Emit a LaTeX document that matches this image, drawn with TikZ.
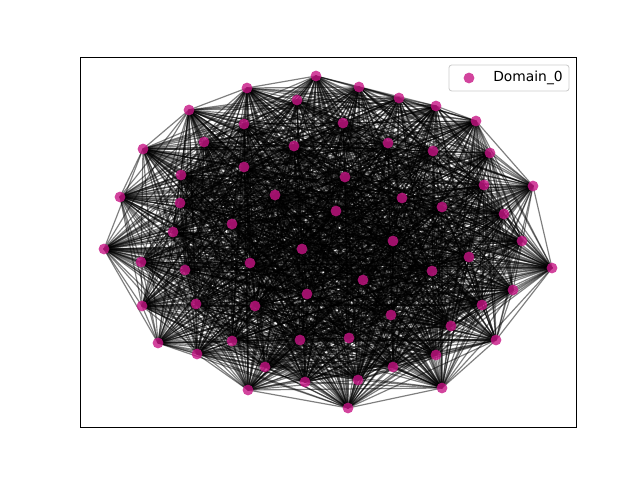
\documentclass[tikz,border=0pt]{standalone}
\usepackage{fontspec}
\setmainfont{DejaVu Sans}
\usetikzlibrary{backgrounds}
\definecolor{domaincol}{RGB}{199,21,133}
\tikzset{
  vertex/.style={circle, fill=domaincol, fill opacity=0.8, inner sep=0pt, minimum size=7.8pt},
  edgeline/.style={black, opacity=0.5, line width=0.85pt},
}
\begin{document}
\begin{tikzpicture}[x=0.01in, y=-0.01in]
		\useasboundingbox (0,0) rectangle (640,480);
		\draw[line width=0.6pt] (80,57.6) rectangle (576,427.2);
		
		\node[vertex] (V1) at (316,76) {};
		\node[vertex] (V2) at (359,87) {};
		\node[vertex] (V3) at (247,88) {};
		\node[vertex] (V4) at (399,98) {};
		\node[vertex] (V5) at (297,100) {};
		\node[vertex] (V6) at (436,106) {};
		\node[vertex] (V7) at (189,110) {};
		\node[vertex] (V8) at (343,123) {};
		\node[vertex] (V9) at (244,124) {};
		\node[vertex] (V10) at (476,121) {};
		\node[vertex] (V11) at (204,142) {};
		\node[vertex] (V12) at (294,146) {};
		\node[vertex] (V13) at (388,143) {};
		\node[vertex] (V14) at (433,151) {};
		\node[vertex] (V15) at (143,149) {};
		\node[vertex] (V16) at (490,153) {};
		\node[vertex] (V17) at (244,167) {};
		\node[vertex] (V18) at (181,175) {};
		\node[vertex] (V19) at (345,177) {};
		\node[vertex] (V20) at (484,185) {};
		\node[vertex] (V21) at (533,186) {};
		\node[vertex] (V22) at (120,197) {};
		\node[vertex] (V23) at (180,203) {};
		\node[vertex] (V24) at (275,195) {};
		\node[vertex] (V25) at (402,198) {};
		\node[vertex] (V26) at (442,207) {};
		\node[vertex] (V27) at (336,211) {};
		\node[vertex] (V28) at (504,214) {};
		\node[vertex] (V29) at (232,224) {};
		\node[vertex] (V30) at (173,232) {};
		\node[vertex] (V31) at (393,241) {};
		\node[vertex] (V32) at (522,241) {};
		\node[vertex] (V33) at (104,249) {};
		\node[vertex] (V34) at (302,249) {};
		\node[vertex] (V35) at (141,262) {};
		\node[vertex] (V36) at (469,257) {};
		\node[vertex] (V37) at (552,268) {};
		\node[vertex] (V38) at (250,263) {};
		\node[vertex] (V39) at (185,270) {};
		\node[vertex] (V40) at (432,271) {};
		\node[vertex] (V41) at (363,280) {};
		\node[vertex] (V42) at (513,290) {};
		\node[vertex] (V43) at (307,294) {};
		\node[vertex] (V44) at (196,304) {};
		\node[vertex] (V45) at (482,305) {};
		\node[vertex] (V46) at (255,306) {};
		\node[vertex] (V47) at (142,306) {};
		\node[vertex] (V48) at (391,315) {};
		\node[vertex] (V49) at (451,326) {};
		\node[vertex] (V50) at (158,343) {};
		\node[vertex] (V51) at (232,341) {};
		\node[vertex] (V52) at (300,340) {};
		\node[vertex] (V53) at (349,338) {};
		\node[vertex] (V54) at (496,340) {};
		\node[vertex] (V55) at (197,354) {};
		\node[vertex] (V56) at (436,355) {};
		\node[vertex] (V57) at (265,367) {};
		\node[vertex] (V58) at (393,367) {};
		\node[vertex] (V59) at (305,382) {};
		\node[vertex] (V60) at (358,380) {};
		\node[vertex] (V61) at (248,390) {};
		\node[vertex] (V62) at (442,388) {};
		\node[vertex] (V63) at (348,408) {};
		
		% edges, behind the vertices
		\begin{pgfonlayer}{background}
		\pgfmathsetseed{7}
		\foreach \i in {1,...,62} {
			\pgfmathtruncatemacro{\lo}{\i+1}
			\foreach \j in {\lo,...,63} {
				\pgfmathtruncatemacro{\keep}{rnd<0.8}
				\ifnum\keep=1 \draw[edgeline] (V\i.center) -- (V\j.center); \fi
			}
		}
		\end{pgfonlayer}
		
		% legend
		\node[draw=black!20, fill=white, fill opacity=0.8, text opacity=1, rounded corners=2pt, minimum width=1.2in, minimum height=0.26in, line width=0.6pt] (L) at (509,78) {};
		\node[vertex] (M) at (469,78) {};
		\node[anchor=west, inner sep=0pt, font=\fontsize{10}{12}\selectfont] (T) at (493,78) {Domain\_0};
		\end{tikzpicture}
\end{document}
